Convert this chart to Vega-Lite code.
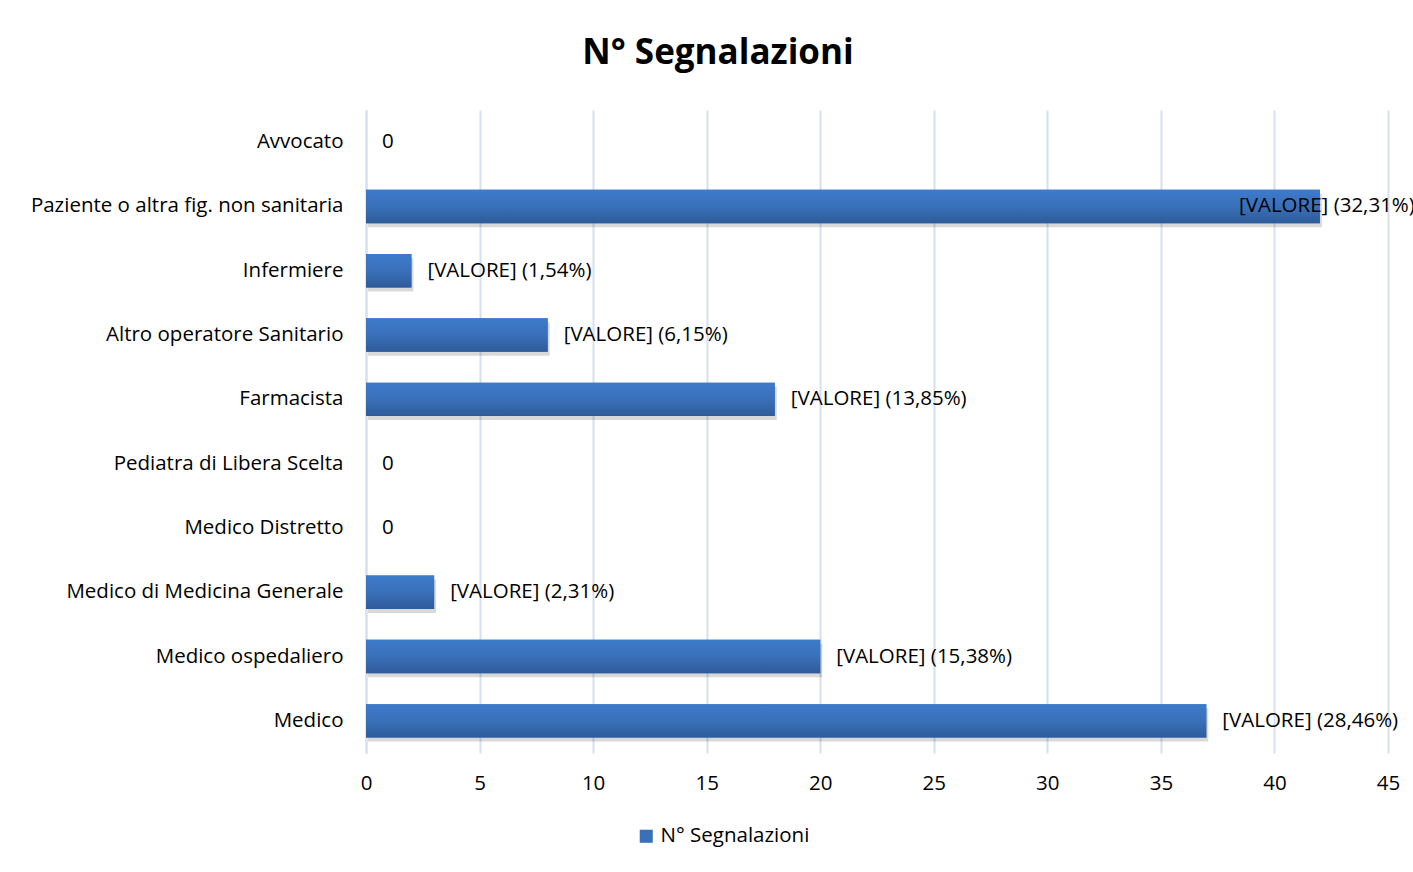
{
  "$schema": "https://vega.github.io/schema/vega-lite/v6.json",
  "width": 1022,
  "height": 643,
  "autosize": {"type": "none"},
  "padding": {"left": 366, "top": 110, "right": 25, "bottom": 119},
  "background": "#ffffff",
  "config": {"font": "Open Sans", "view": {"stroke": null}},
  "title": {"text": "N° Segnalazioni", "fontSize": 35, "fontWeight": "bold", "font": "Open Sans", "color": "#000000", "anchor": "middle", "dx": -159, "offset": 39},
  "data": {"values": [
    {"categoria": "Avvocato", "valore": 0, "etichetta": "0"},
    {"categoria": "Paziente o altra fig. non sanitaria", "valore": 42, "etichetta": "[VALORE] (32,31%)"},
    {"categoria": "Infermiere", "valore": 2, "etichetta": "[VALORE] (1,54%)"},
    {"categoria": "Altro operatore Sanitario", "valore": 8, "etichetta": "[VALORE] (6,15%)"},
    {"categoria": "Farmacista", "valore": 18, "etichetta": "[VALORE] (13,85%)"},
    {"categoria": "Pediatra di Libera Scelta", "valore": 0, "etichetta": "0"},
    {"categoria": "Medico Distretto", "valore": 0, "etichetta": "0"},
    {"categoria": "Medico di Medicina Generale", "valore": 3, "etichetta": "[VALORE] (2,31%)"},
    {"categoria": "Medico ospedaliero", "valore": 20, "etichetta": "[VALORE] (15,38%)"},
    {"categoria": "Medico", "valore": 37, "etichetta": "[VALORE] (28,46%)"}
  ]},
  "encoding": {
    "y": {"field": "categoria", "type": "nominal",
      "sort": ["Avvocato", "Paziente o altra fig. non sanitaria", "Infermiere", "Altro operatore Sanitario", "Farmacista", "Pediatra di Libera Scelta", "Medico Distretto", "Medico di Medicina Generale", "Medico ospedaliero", "Medico"],
      "scale": {"paddingInner": 0.48, "paddingOuter": 0.24},
      "axis": {"title": null, "labelFontSize": 20.5, "labelColor": "#000000", "labelPadding": 23, "ticks": false, "domainColor": "#d5e0f0", "domainWidth": 2, "labelLimit": 400}},
    "x": {"field": "valore", "type": "quantitative",
      "scale": {"domain": [0, 45], "nice": false},
      "axis": {"title": null, "values": [0, 5, 10, 15, 20, 25, 30, 35, 40, 45], "labelFontSize": 20.5, "labelColor": "#000000", "labelPadding": 20, "ticks": false, "domain": false, "gridColor": "#d5e0f0", "gridWidth": 2, "labelFlush": false}}
  },
  "layer": [
    {"transform": [{"filter": "datum.valore > 0"}],
     "mark": {"type": "bar", "color": "#000000", "opacity": 0.15, "yOffset": 4, "xOffset": 2}},
    {"mark": {"type": "bar"},
     "encoding": {"color": {"datum": "N° Segnalazioni", "type": "nominal",
       "scale": {"range": ["#3a6fb9"]},
       "legend": {"orient": "none", "legendX": 270, "legendY": 716, "title": null, "labelFontSize": 20.5, "labelColor": "#000000", "symbolType": "square", "symbolSize": 170, "symbolStrokeWidth": 0}}}},
    {"mark": {"type": "bar", "fill": {"x1": 0, "y1": 0, "x2": 0, "y2": 1, "gradient": "linear", "stops": [{"offset": 0, "color": "#3d7bcb"}, {"offset": 0.5, "color": "#3a70ba"}, {"offset": 1, "color": "#2e5b9a"}]}}},
    {"transform": [{"filter": "datum.valore < 40"}],
     "mark": {"type": "text", "align": "left", "dx": 16, "fontSize": 20.5, "color": "#000000"},
     "encoding": {"text": {"field": "etichetta"}}},
    {"transform": [{"filter": "datum.valore >= 40"}],
     "mark": {"type": "text", "align": "right", "dx": 95, "fontSize": 20.5, "color": "#000000"},
     "encoding": {"text": {"field": "etichetta"}}}
  ]
}
